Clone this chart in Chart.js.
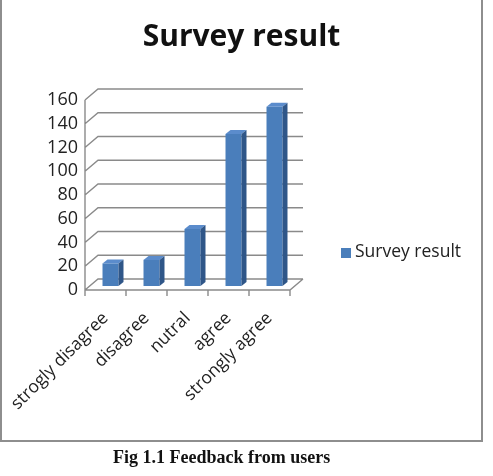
<!DOCTYPE html>
<html>
<head>
<meta charset="utf-8">
<script src="https://cdn.jsdelivr.net/npm/chart.js@4/dist/chart.umd.min.js"></script>
<style>
  body { margin: 0; background: #fff; }
  #wrap { position: relative; width: 493px; height: 476px; }
  #chart { position: absolute; left: 0; top: 0; }
  #frame {
    position: absolute; left: 0; top: -2px; width: 479px; height: 440px;
    border: 2px solid #8e8e8e; pointer-events: none;
  }
  #legend {
    position: absolute; left: 341px; top: 240px; height: 20px;
    font: 17.5px "Open Sans", sans-serif; color: #222; line-height: 20px; white-space: nowrap;
  }
  #legend span.box {
    display: inline-block; width: 10px; height: 10px; background: #4a7ebb;
    margin-right: 4px; vertical-align: -1px;
  }
  #caption {
    position: absolute; left: 113px; top: 448px;
    font: bold 18px "Liberation Serif", serif; line-height: 18px; color: #111;
  }
</style>
</head>
<body>
<div id="wrap">
  <canvas id="chart" width="483" height="442"></canvas>
  <div id="frame"></div>
  <div id="legend"></div>
  <div id="caption">Fig 1.1 Feedback from users</div>
</div>
<script>
/* ===== DATA ===== */
const categories = ["strogly disagree", "disagree", "nutral", "agree", "strongly agree"];
const surveyValues = [19, 22, 48, 128, 151];
const seriesName = "Survey result";
const yMax = 160;
const yStep = 20;

/* ===== 3D LOOK ===== */
const BACK_DX = 13, BACK_DY = -11;   // back wall offset
const BAR_DX = 5, BAR_DY = -4;       // bars sit a bit into the depth
const FACE_DX = 5, FACE_DY = -4;     // bar side / top depth
const GRID = "#8a8a8a";
const FONT = "Open Sans";

const gridPlugin = {
  id: "grid3d",
  beforeDatasetsDraw(chart) {
    const { ctx, chartArea: a, scales } = chart;
    const y = scales.y;
    ctx.save();
    ctx.strokeStyle = GRID;
    ctx.lineWidth = 1.4;
    ctx.beginPath();
    y.ticks.forEach((t) => {
      const py = y.getPixelForValue(t.value);
      ctx.moveTo(a.left, py);
      ctx.lineTo(a.left + BACK_DX, py + BACK_DY);
      ctx.lineTo(a.right + BACK_DX, py + BACK_DY);
    });
    // front left edge
    ctx.moveTo(a.left, a.top);
    ctx.lineTo(a.left, a.bottom);
    // floor front edge + right slant
    ctx.moveTo(a.left, a.bottom);
    ctx.lineTo(a.right, a.bottom);
    ctx.lineTo(a.right + BACK_DX, a.bottom + BACK_DY);
    // category tick marks
    const n = categories.length;
    for (let i = 0; i <= n; i++) {
      const px = a.left + (a.right - a.left) * i / n;
      ctx.moveTo(px, a.bottom);
      ctx.lineTo(px, a.bottom + 6);
    }
    ctx.stroke();
    ctx.restore();

    // push the bars into the depth
    ctx.save();
    ctx.translate(BAR_DX, BAR_DY);
  },
  afterDatasetsDraw(chart) {
    const { ctx } = chart;
    chart.getDatasetMeta(0).data.forEach((bar) => {
      const l = bar.x - bar.width / 2;
      const r = bar.x + bar.width / 2;
      // top face
      ctx.fillStyle = "#5b8ccc";
      ctx.beginPath();
      ctx.moveTo(l, bar.y);
      ctx.lineTo(r, bar.y);
      ctx.lineTo(r + FACE_DX, bar.y + FACE_DY);
      ctx.lineTo(l + FACE_DX, bar.y + FACE_DY);
      ctx.closePath();
      ctx.fill();
      // side face
      ctx.fillStyle = "#2f5688";
      ctx.beginPath();
      ctx.moveTo(r, bar.y);
      ctx.lineTo(r + FACE_DX, bar.y + FACE_DY);
      ctx.lineTo(r + FACE_DX, bar.base + FACE_DY);
      ctx.lineTo(r, bar.base);
      ctx.closePath();
      ctx.fill();
    });
    ctx.restore();
  },
};

/* ===== CHART ===== */
const chart = new Chart(document.getElementById("chart"), {
  type: "bar",
  data: {
    labels: categories,
    datasets: [
      {
        label: seriesName,
        data: surveyValues,
        backgroundColor: "#4a7ebb",
        borderWidth: 0,
        categoryPercentage: 1,
        barPercentage: 0.39,
        clip: false,
      },
    ],
  },
  options: {
    responsive: false,
    animation: false,
    layout: { padding: 0 },
    plugins: {
      legend: { display: false },
      tooltip: { enabled: false },
      title: {
        display: true,
        text: seriesName,
        color: "#111",
        font: { family: FONT, size: 30, weight: "bold", lineHeight: 1.2 },
        padding: { top: 19, bottom: 45 },
      },
    },
    scales: {
      x: {
        grid: { display: false },
        border: { display: false },
        ticks: {
          color: "#222",
          font: { family: FONT, size: 17.5 },
          minRotation: 45,
          maxRotation: 45,
          autoSkip: false,
          padding: 10,
        },
        afterFit: (s) => {
          s.height = 152;
          s.paddingLeft = 0;
          s.paddingRight = 0;
        },
      },
      y: {
        min: 0,
        max: yMax,
        grid: { display: false, drawTicks: false },
        border: { display: false },
        ticks: {
          stepSize: yStep,
          autoSkip: false,
          color: "#222",
          font: { family: FONT, size: 18 },
          padding: 7,
        },
        afterFit: (s) => {
          s.width = 85;
          s.paddingTop = 0;
          s.paddingBottom = 0;
        },
      },
      // empty right axis only keeps room for the legend
      side: {
        axis: "y",
        position: "right",
        grid: { display: false },
        border: { display: false },
        ticks: { display: false },
        afterFit: (s) => (s.width = 193),
      },
    },
  },
  plugins: [gridPlugin],
});

/* ===== LEGEND ===== */
const legendEl = document.getElementById("legend");
legendEl.innerHTML = `<span class="box"></span>${chart.data.datasets[0].label}`;
</script>
</body>
</html>
